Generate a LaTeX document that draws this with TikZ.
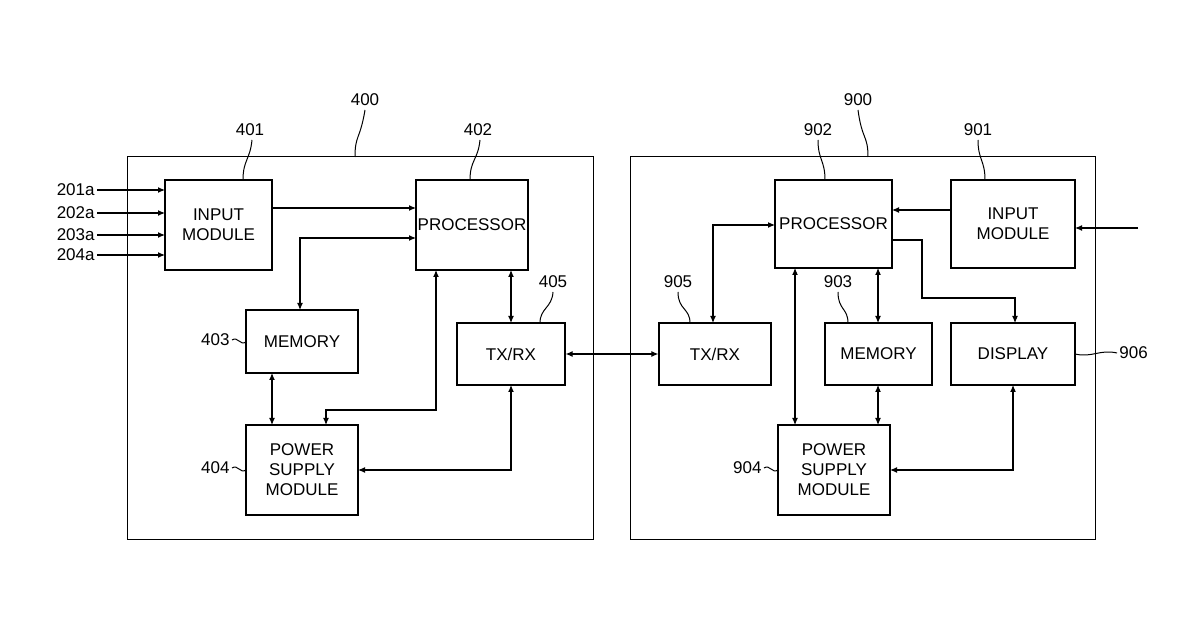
\documentclass[tikz,border=0pt]{standalone}
\usepackage{fontspec}
\setmainfont{Liberation Sans}
\usetikzlibrary{arrows.meta}
\begin{document}
\begin{tikzpicture}[x=0.5pt,y=-0.5pt,
  blk/.style={draw,line width=0.6pt,align=center,font=\fontsize{8.5}{10}\selectfont,inner sep=0pt},
  frame/.style={draw,line width=0.5pt},
  con/.style={line width=0.55pt,-{Latex[length=3.5pt,width=3pt]}},
  bcon/.style={line width=0.55pt,{Latex[length=3.5pt,width=3pt]}-{Latex[length=3.5pt,width=3pt]}},
  lbl/.style={font=\fontsize{8.5}{10}\selectfont,inner sep=1pt},
  lead/.style={line width=0.5pt}]
\useasboundingbox (0,0) rectangle (1200,630);
\draw[frame] (127,157) rectangle (593,540);
\draw[frame] (630,157) rectangle (1095,540);
% left blocks
\node[blk,minimum width=53.5pt,minimum height=45pt] (in4) at (218.5,225) {INPUT\\MODULE};
\node[blk,minimum width=56pt,minimum height=45pt] (pr4) at (472,225) {PROCESSOR};
\node[blk,minimum width=56pt,minimum height=31.5pt] (me4) at (302,341.5) {MEMORY};
\node[blk,minimum width=56pt,minimum height=45pt] (pw4) at (302,470) {POWER\\SUPPLY\\MODULE};
\node[blk,minimum width=54pt,minimum height=31pt] (tx4) at (511,354) {TX/RX};
% right blocks
\node[blk,minimum width=58.5pt,minimum height=44pt] (pr9) at (833.5,224) {PROCESSOR};
\node[blk,minimum width=62pt,minimum height=44pt] (in9) at (1013,224) {INPUT\\MODULE};
\node[blk,minimum width=56pt,minimum height=31pt] (tx9) at (715,354) {TX/RX};
\node[blk,minimum width=53.5pt,minimum height=31pt] (me9) at (878.5,354) {MEMORY};
\node[blk,minimum width=62pt,minimum height=31pt] (di9) at (1013,354) {DISPLAY};
\node[blk,minimum width=56pt,minimum height=45pt] (pw9) at (834,470) {POWER\\SUPPLY\\MODULE};
% inputs left
\foreach \t/\y in {201a/190,202a/213,203a/235,204a/255}{
  \node[lbl,anchor=east] (l\t) at (97,\y) {\t};
  \draw[con] (l\t.east) -- (165,\y);}
% left connectors
\draw[con] (272,208) -- (416,208);
\draw[bcon] (300,310) |- (416,238);
\draw[bcon] (326,425) -- (326,410) -| (436,270);
\draw[bcon] (272,373) -- (272,425);
\draw[bcon] (511,270) -- (511,323);
\draw[bcon] (511,385) |- (358,470);
\draw[bcon] (tx4.east) -- (tx9.west);
% right connectors
\coordinate (ext) at (1138,228);
\draw[con] (ext) -- (1075,228);
\draw[con] (951,210) -- (892,210);
\draw[bcon] (713,323) |- (775,225);
\draw[con] (892,240) -- (922,240) -- (922,298) -| (1015,323);
\draw[bcon] (795,268) -- (795,425);
\draw[bcon] (878,268) -- (878,323);
\draw[bcon] (878,385) -- (878,425);
\draw[bcon] (1013,385) |- (890,470);
% labels
\node[lbl] (n400) at (365,100) {400};
\draw[lead] (365,110) .. controls (360,140) and (355,135) .. (355,157);
\node[lbl] (n900) at (858,100) {900};
\draw[lead] (858,110) .. controls (862,140) and (868,135) .. (868,157);
\node[lbl] (n401) at (250,130) {401};
\draw[lead] (252,140) .. controls (250,160) and (243,160) .. (243,180);
\node[lbl] (n402) at (478,130) {402};
\draw[lead] (480,140) .. controls (478,160) and (470,160) .. (470,180);
\node[lbl] (n405) at (553,282) {405};
\draw[lead] (553,292) .. controls (552,308) and (540,308) .. (540,323);
\node[lbl] (n902) at (818,130) {902};
\draw[lead] (818,140) .. controls (818,160) and (825,160) .. (825,180);
\node[lbl] (n901) at (978,130) {901};
\draw[lead] (978,140) .. controls (978,160) and (985,160) .. (985,180);
\node[lbl] (n905) at (678,282) {905};
\draw[lead] (678,292) .. controls (678,310) and (690,308) .. (690,323);
\node[lbl] (n903) at (838,282) {903};
\draw[lead] (838,292) .. controls (838,310) and (848,308) .. (848,323);
\node[lbl,anchor=east] (n403) at (232,340) {403};
\draw[lead] (232,340) .. controls (238,336) and (240,346) .. (246,342);
\node[lbl,anchor=east] (n404) at (232,468) {404};
\draw[lead] (232,468) .. controls (238,464) and (240,474) .. (246,470);
\node[lbl,anchor=east] (n904) at (764,468) {904};
\draw[lead] (764,468) .. controls (770,464) and (772,474) .. (778,470);
\node[lbl,anchor=west] (n906) at (1117,353) {906};
\draw[lead] (1117,353) .. controls (1100,349) and (1092,358) .. (1075,354);
\end{tikzpicture}
\end{document}
